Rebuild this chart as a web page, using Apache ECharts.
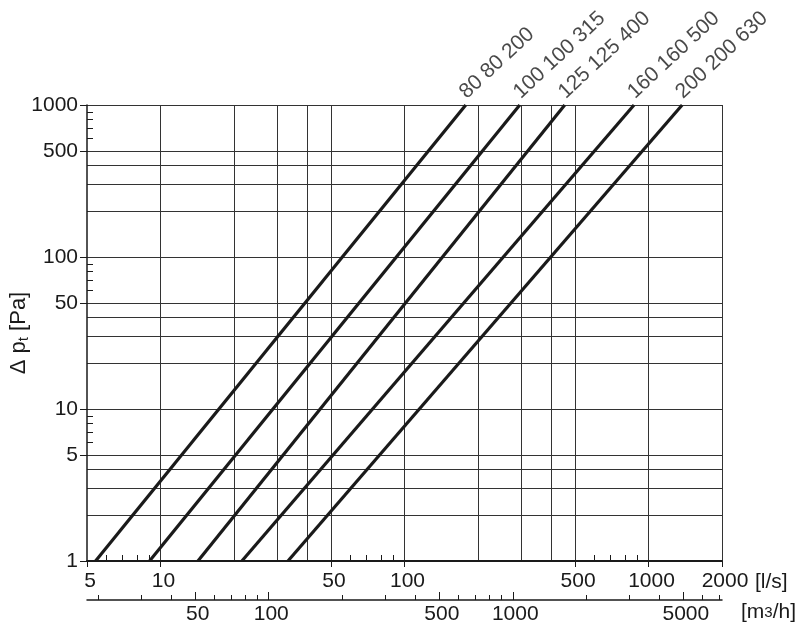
<!DOCTYPE html>
<html><head><meta charset="utf-8">
<script src="https://cdn.jsdelivr.net/npm/echarts@6/dist/echarts.min.js"></script>
<style>html,body{margin:0;padding:0;background:#fff}#c{width:805px;height:631px}</style>
</head><body><div id="c"></div><script>
// ---- data ----
const seriesNames = ['80 80 200', '100 100 315', '125 125 400', '160 160 500', '200 200 630'];
const flowAt1Pa = [5.42, 9.02, 14.24, 21.56, 33.3];       // l/s where each line meets 1 Pa
const flowAt1000Pa = [178.2, 296.7, 453.6, 872, 1373];    // l/s where each line meets 1000 Pa
const pressureEnds = [1, 1000];
const xLabelValues = [5, 10, 50, 100, 500, 1000, 2000];
const xGridValues = [10, 20, 30, 40, 50, 100, 200, 300, 400, 500, 1000, 2000];
const xMinorTicks = [6, 7, 8, 9, 60, 70, 80, 90, 600, 700, 800, 900];
const yLabelValues = [1, 5, 10, 50, 100, 500, 1000];
const yGridValues = [2, 3, 4, 5, 10, 20, 30, 40, 50, 100, 200, 300, 400, 500, 1000];
const yMinorTicks = [6, 7, 8, 9, 60, 70, 80, 90, 600, 700, 800, 900];
const m3hLabelValues = [50, 100, 500, 1000, 5000];
const m3hMinorTicks = [20, 30, 40, 60, 70, 80, 90, 200, 300, 400, 600, 700, 800, 900, 2000, 3000, 4000, 6000, 7000];
const xRange = [5, 2000];          // l/s
const m3hRange = [18, 7200];       // m3/h (= l/s * 3.6)
const yRange = [1, 1000];          // Pa

const FONT = 'Liberation Sans, Arial, Helvetica, sans-serif';
const INK = '#1a1a1a';
const GRID = '#333333';
const fmt = v => String(Math.round(v));

const chart = echarts.init(document.getElementById('c'), null, {renderer: 'canvas'});

const labelStyle = {color: INK, fontSize: 21, fontFamily: FONT};

const lineSeries = seriesNames.map((n, i) => ({
  type: 'line', name: n, xAxisIndex: 0, yAxisIndex: 0,
  data: [[flowAt1Pa[i], pressureEnds[0]], [flowAt1000Pa[i], pressureEnds[1]]],
  symbol: 'none', showSymbol: false, silent: true, z: 3,
  lineStyle: {color: INK, width: 3.2}
}));

const labelSeries = {
  type: 'scatter', xAxisIndex: 0, yAxisIndex: 0, clip: false, silent: true, z: 4,
  symbolSize: 2, itemStyle: {color: 'rgba(0,0,0,0)'},
  data: flowAt1000Pa.map((q, i) => ({value: [q, pressureEnds[1]], name: seriesNames[i]})),
  label: {
    show: true, formatter: p => p.name, position: [-2, -9], rotate: 43,
    align: 'left', verticalAlign: 'middle', ...labelStyle
  }
};

const option = {
  animation: false,
  backgroundColor: '#ffffff',
  grid: [
    {left: 87, right: 83, top: 105, bottom: 70, outerBoundsMode: 'none', containLabel: false},
    {left: 87, right: 83, top: 560, height: 40, outerBoundsMode: 'none', containLabel: false}
  ],
  xAxis: [
    { // main l/s axis with labels
      type: 'log', gridIndex: 0, min: xRange[0], max: xRange[1], position: 'bottom',
      axisLine: {show: true, lineStyle: {color: INK, width: 2}},
      axisTick: {show: true, inside: false, length: 6, customValues: xLabelValues, lineStyle: {color: INK, width: 1}},
      axisLabel: {show: true, customValues: xLabelValues, margin: 10, formatter: fmt, padding: [0, 0, 0, 6], ...labelStyle},
      splitLine: {show: false}, minorTick: {show: false},
      name: '{n|[l/s]}', nameLocation: 'end', nameGap: 33, nameMoveOverlap: false,
      nameTextStyle: {...labelStyle, align: 'left', verticalAlign: 'middle',
        rich: {n: {fontSize: 21, fontFamily: FONT, color: INK, padding: [42, 0, 0, 0]}}}
    },
    { // minor inward ticks
      type: 'log', gridIndex: 0, min: xRange[0], max: xRange[1], position: 'bottom',
      axisLine: {show: false},
      axisTick: {show: true, inside: true, length: 6, customValues: xMinorTicks, lineStyle: {color: INK, width: 1}},
      axisLabel: {show: false}, splitLine: {show: false}
    },
    { // grid lines
      type: 'log', gridIndex: 0, min: xRange[0], max: xRange[1], position: 'bottom',
      axisLine: {show: false},
      axisTick: {show: false, customValues: xGridValues},
      axisLabel: {show: false},
      splitLine: {show: true, lineStyle: {color: GRID, width: 1}}
    },
    { // m3/h axis major
      type: 'log', gridIndex: 1, min: m3hRange[0], max: m3hRange[1], position: 'bottom',
      axisLine: {show: true, lineStyle: {color: INK, width: 1.5}},
      axisTick: {show: true, inside: true, length: 8, customValues: m3hLabelValues, lineStyle: {color: INK, width: 1}},
      axisLabel: {show: true, customValues: m3hLabelValues, margin: 4, formatter: fmt, padding: [0, 0, 0, 5], ...labelStyle},
      splitLine: {show: false},
      name: '{m|[m}{s|3}{m|/h]}', nameLocation: 'end', nameGap: 19, nameMoveOverlap: false,
      nameTextStyle: {...labelStyle, align: 'left', verticalAlign: 'middle',
        rich: {
          m: {fontSize: 21, fontFamily: FONT, color: INK, padding: [25, 0, 0, 0]},
          s: {fontSize: 15, fontFamily: FONT, color: INK, padding: [25, 0, 0, 0]}
        }}
    },
    { // m3/h minor ticks
      type: 'log', gridIndex: 1, min: m3hRange[0], max: m3hRange[1], position: 'bottom',
      axisLine: {show: false},
      axisTick: {show: true, inside: true, length: 5, customValues: m3hMinorTicks, lineStyle: {color: INK, width: 1}},
      axisLabel: {show: false}, splitLine: {show: false}
    }
  ],
  yAxis: [
    {
      type: 'log', gridIndex: 0, min: yRange[0], max: yRange[1], position: 'left',
      axisLine: {show: true, lineStyle: {color: INK, width: 1.5}},
      axisTick: {show: true, inside: false, length: 7, customValues: yLabelValues, lineStyle: {color: INK, width: 1}},
      axisLabel: {show: true, customValues: yLabelValues, margin: 9, formatter: fmt, ...labelStyle},
      splitLine: {show: false},
      name: '{a|Δ p}{b|t}{a| [Pa]}', nameLocation: 'middle', nameRotate: 90, nameGap: 56,
      nameMoveOverlap: false,
      nameTextStyle: {...labelStyle, rich: {
        a: {fontSize: 22, fontFamily: FONT, color: INK, lineHeight: 24},
        b: {fontSize: 15, fontFamily: FONT, color: INK, verticalAlign: 'bottom'}
      }}
    },
    {
      type: 'log', gridIndex: 0, min: yRange[0], max: yRange[1], position: 'left',
      axisLine: {show: false},
      axisTick: {show: true, inside: true, length: 6, customValues: yMinorTicks, lineStyle: {color: INK, width: 1}},
      axisLabel: {show: false}, splitLine: {show: false}
    },
    {
      type: 'log', gridIndex: 0, min: yRange[0], max: yRange[1], position: 'left',
      axisLine: {show: false},
      axisTick: {show: false, customValues: yGridValues},
      axisLabel: {show: false},
      splitLine: {show: true, lineStyle: {color: GRID, width: 1}}
    },
    {type: 'value', gridIndex: 1, show: false, min: 0, max: 1}
  ],
  series: [...lineSeries, labelSeries]
};
chart.setOption(option);
</script></body></html>
